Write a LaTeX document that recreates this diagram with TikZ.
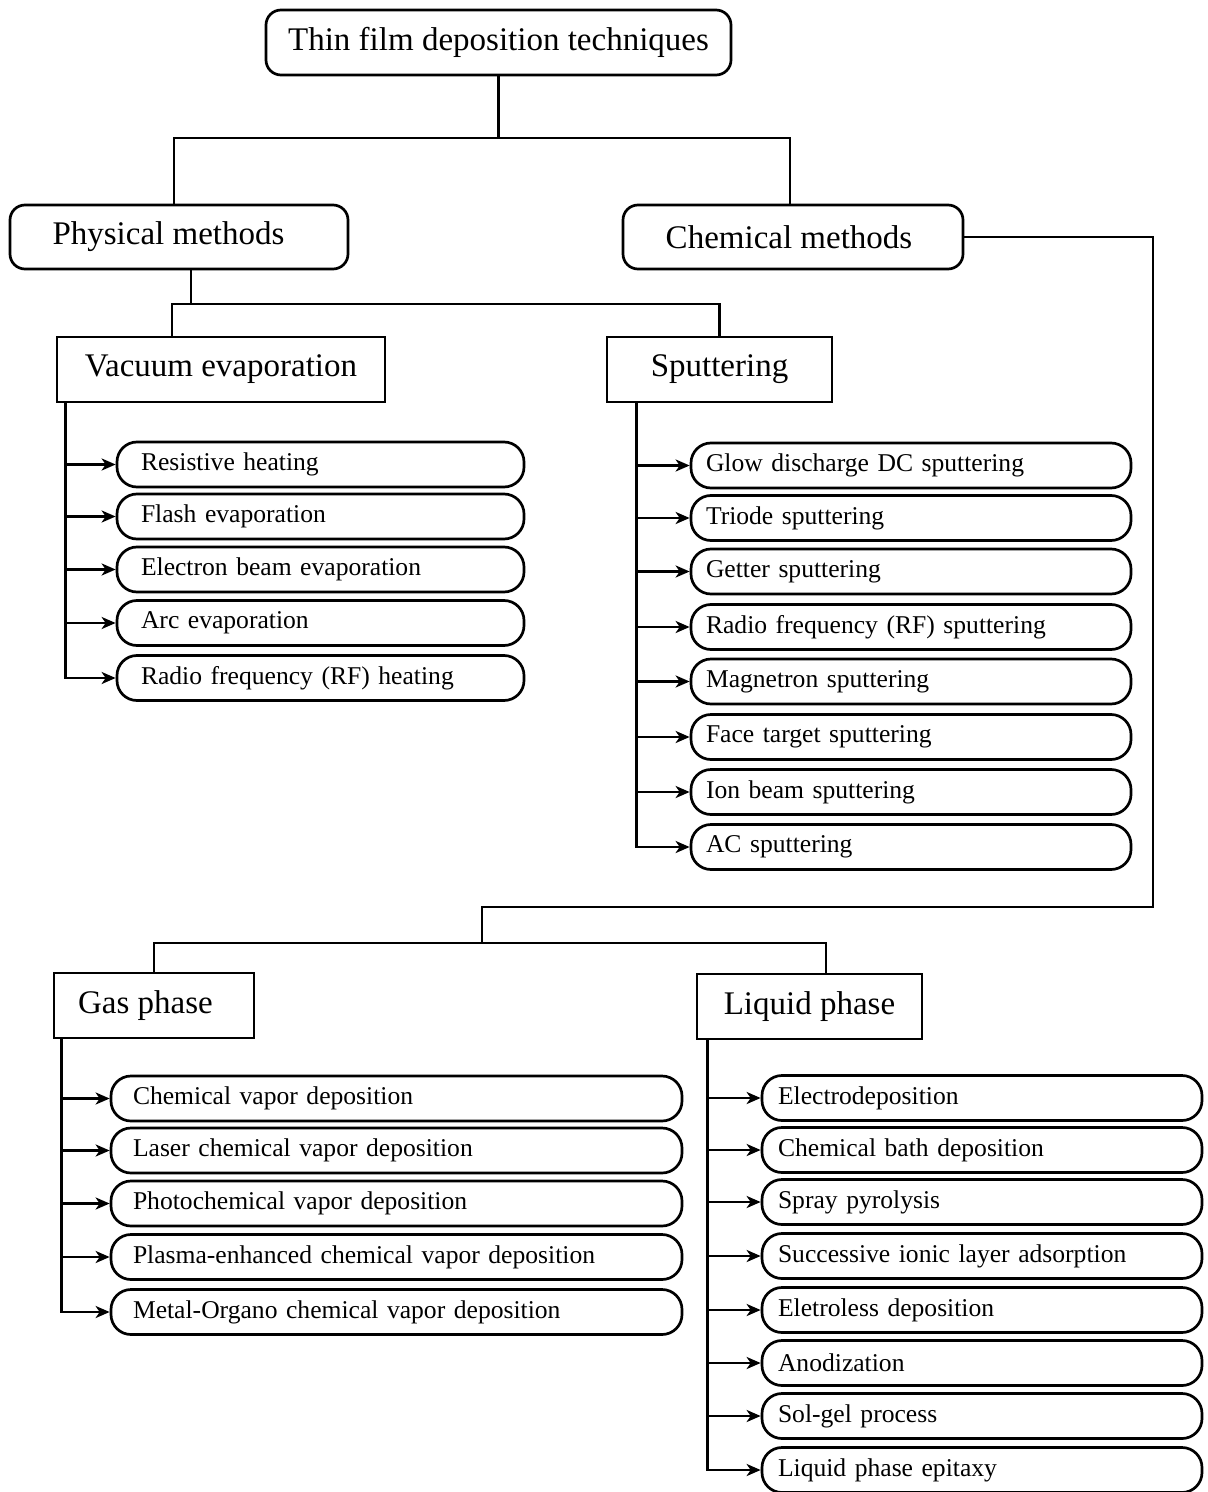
\documentclass[tikz,border=0pt]{standalone}
\usepackage{fontspec}
\setmainfont{Liberation Serif}
\usetikzlibrary{arrows.meta,calc}
\newcommand\hdfont{\fontsize{16.5}{19}\selectfont}
\newcommand\itfont{\fontsize{12.8}{15}\selectfont}
\begin{document}
\begin{tikzpicture}[x=0.5pt,y=-0.5pt,line width=1.35pt,
  headr/.style={draw,rounded corners=7.5pt,font=\hdfont,inner sep=0pt},
  headb/.style={draw,font=\hdfont,inner sep=0pt},
  item/.style={draw,rounded corners=10pt,minimum height=22.5pt,inner ysep=0pt,align=left,font=\itfont},
  vitem/.style={item,inner xsep=12pt,text width=179.5pt},
  sitem/.style={item,inner xsep=7.5pt,text width=205pt},
  gitem/.style={item,inner xsep=11pt,text width=263.5pt},
  litem/.style={item,inner xsep=8pt,text width=204pt},
  arr/.style={-{Stealth[length=7pt,width=6pt,inset=2pt]}}]
\useasboundingbox (0,0) rectangle (1208,1492);
\fill[white] (0,0) rectangle (1208,1492);

% headings
\node[headr,minimum width=232.5pt,minimum height=32.5pt] (top) at (498.5,42.5) {Thin film deposition techniques};
\node[headr,minimum width=169pt,minimum height=32pt] (phys) at (179,237) {\hspace*{-10.5pt}Physical methods};
\node[headr,minimum width=170pt,minimum height=32pt] (chem) at (793,237) {\hspace*{-4pt}Chemical methods};
\node[headb,minimum width=164pt,minimum height=32.5pt] (vac) at (221,369.5) {Vacuum evaporation};
\node[headb,minimum width=112.5pt,minimum height=32.5pt] (sput) at (719.5,369.5) {Sputtering};
\node[headb,minimum width=100pt,minimum height=32.5pt] (gas) at (154,1005.5) {\hspace*{-8.5pt}Gas phase};
\node[headb,minimum width=112.5pt,minimum height=32.5pt] (liq) at (809.5,1006.5) {Liquid phase};

% tree connectors
\coordinate (j1) at (498.5,138);
\draw (top.south) -- (j1);
\draw ([xshift=-2.5pt]phys.north) |- (j1) -| ([xshift=-1.5pt]chem.north);
\coordinate (j2) at (191,304);
\draw (j2 |- phys.south) -- (j2);
\draw ([xshift=-24.5pt]vac.north) |- (j2) -| (sput.north);
\coordinate (c1) at (1153,907);
\coordinate (j3) at (482,943);
\draw (chem.east) -| (c1) -| (j3);
\draw (gas.north) |- (j3) -| ([xshift=8.25pt]liq.north);

% vacuum evaporation items
\foreach \y/\t [count=\i] in {464.5/Resistive heating,516.5/Flash evaporation,569.5/Electron beam evaporation,623/Arc evaporation,678/Radio frequency (RF) heating}
  \node[vitem] (v\i) at (320.5,\y) {\t};
\coordinate (vx) at ([xshift=5pt]vac.south west);
\draw[arr] (vx) |- (v5.west);
\foreach \i in {1,...,4} \draw[arr] (vx |- v\i.west) -- (v\i.west);

% sputtering items
\foreach \y/\t [count=\i] in {465.5/Glow discharge DC sputtering,518/Triode sputtering,571.5/Getter sputtering,627/Radio frequency (RF) sputtering,681.5/Magnetron sputtering,737/Face target sputtering,792/Ion beam sputtering,847/AC sputtering}
  \node[sitem] (s\i) at (911,\y) {\t};
\coordinate (sx) at ([xshift=15.5pt]sput.south west);
\draw[arr] (sx) |- (s8.west);
\foreach \i in {1,...,7} \draw[arr] (sx |- s\i.west) -- (s\i.west);

% gas phase items
\foreach \y/\t [count=\i] in {1098.5/Chemical vapor deposition,1150.5/Laser chemical vapor deposition,1203.5/Photochemical vapor deposition,1257/Plasma-enhanced chemical vapor deposition,1312/Metal-Organo chemical vapor deposition}
  \node[gitem] (g\i) at (396.5,\y) {\t};
\coordinate (gx) at ([xshift=4.5pt]gas.south west);
\draw[arr] (gx) |- (g5.west);
\foreach \i in {1,...,4} \draw[arr] (gx |- g\i.west) -- (g\i.west);

% liquid phase items
\foreach \y/\t [count=\i] in {1098/Electrodeposition,1150/Chemical bath deposition,1202/Spray pyrolysis,1256/Successive ionic layer adsorption,1310/Eletroless deposition,1363/Anodization,1416/Sol-gel process,1470/Liquid phase epitaxy}
  \node[litem] (l\i) at (982,\y) {\t};
\coordinate (lx) at ([xshift=6pt]liq.south west);
\draw[arr] (lx) |- (l8.west);
\foreach \i in {1,...,7} \draw[arr] (lx |- l\i.west) -- (l\i.west);
\end{tikzpicture}
\end{document}
